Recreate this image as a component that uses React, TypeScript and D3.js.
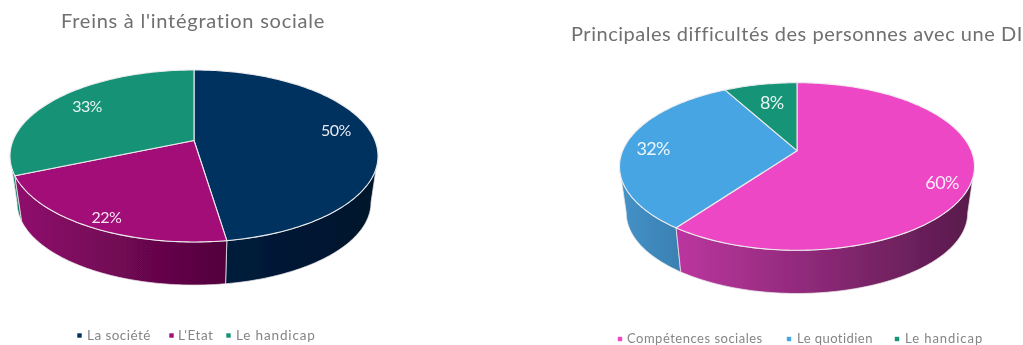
import React from "react";
import * as d3 from "d3";

const leftTitle = "Freins à l'intégration sociale";
const leftCategories = ["La société", "L'Etat", "Le handicap"];
const leftValues = [50, 22, 33];
const leftColors = ["#03305f", "#a30b78", "#149377"];
const leftWallColors: [string, string][] = [["#001c3c", "#00122a"], ["#8f0a6c", "#52043c"], ["#12806a", "#127a64"]];

const rightTitle = "Principales difficultés des personnes avec une DI";
const rightCategories = ["Compétences sociales", "Le quotidien", "Le handicap"];
const rightValues = [60, 32, 8];
const rightColors = ["#ee46c6", "#47a5e3", "#149478"];
const rightWallColors: [string, string][] = [["#bb369f", "#571a4a"], ["#4592c8", "#3a80b2"], ["#127a64", "#127a64"]];

const FONT = "Lato, 'Open Sans', sans-serif";
const TAU = Math.PI * 2;

type Cfg = {
  id: string; title: string; categories: string[]; values: number[]; colors: string[]; walls: [string, string][];
  cx: number; cy: number; b: number; a: number; k: number; depth: number; shrink: number;
  titleX: number; titleY: number; titleSize: number; titleSpacing: number;
  labelR: number; labelSize: number; labelNudge: [number, number][];
  legendY: number; legendSize: number; legendSquareX: number[]; legendTextX: number[]; legendSpacing: number[];
};

const charts: Cfg[] = [
  {
    id: "l", title: leftTitle, categories: leftCategories, values: leftValues, colors: leftColors, walls: leftWallColors,
    cx: 194, cy: 140.5, b: 181, a: 83.2, k: 0.18, depth: 47, shrink: 0.962,
    titleX: 61, titleY: 28, titleSize: 20, titleSpacing: 0.75,
    labelR: 0.8, labelSize: 16, labelNudge: [[-1, -5], [-7, 10], [5, 0]],
    legendY: 335, legendSize: 13.5, legendSquareX: [79.5, 171.5, 228.5], legendTextX: [87, 178, 236], legendSpacing: [0.45, 0.55, 0.85],
  },
  {
    id: "r", title: rightTitle, categories: rightCategories, values: rightValues, colors: rightColors, walls: rightWallColors,
    cx: 797, cy: 150.7, b: 174.3, a: 80.8, k: 0.1885, depth: 47, shrink: 0.962,
    titleX: 571, titleY: 41, titleSize: 20, titleSpacing: 0.52,
    labelR: 0.8, labelSize: 18, labelNudge: [[6, 11], [-6, 2], [5, 6]],
    legendY: 338.5, legendSize: 13, legendSquareX: [620, 789, 897], legendTextX: [627, 797, 905], legendSpacing: [0.5, 0.45, 0.95],
  },
];

function Pie3D({ c }: { c: Cfg }) {
  const arcs = d3.pie<number>().sort(null)(c.values);
  const top = (t: number, r = 1): [number, number] => {
    const u = Math.sin(t) * r, v = Math.cos(t) * r, d = 1 + c.k * v;
    return [c.cx + (c.b * u) / d, c.cy - (c.a * v) / d];
  };
  const bottom = (t: number): [number, number] => {
    const [x, y] = top(t);
    return [c.cx + (x - c.cx) * c.shrink, c.cy + c.depth + (y - c.cy) * c.shrink];
  };
  const samples = (t0: number, t1: number) => {
    const n = Math.max(2, Math.ceil(Math.abs(t1 - t0) / 0.02));
    return d3.range(n + 1).map((i) => t0 + ((t1 - t0) * i) / n);
  };
  const line = d3.line();
  const visA = Math.PI / 2 + Math.asin(c.k);
  const visB = TAU - visA;
  const walls = arcs
    .map((a, i) => ({ i, t0: Math.max(a.startAngle, visA), t1: Math.min(a.endAngle, visB) }))
    .filter((w) => w.t1 > w.t0);
  const order = [...walls].sort(
    (p, q) => Math.abs((q.t0 + q.t1) / 2 - Math.PI) - Math.abs((p.t0 + p.t1) / 2 - Math.PI)
  );
  return (
    <g>
      <defs>
        {walls.map((w) => (
          <linearGradient key={w.i} id={`${c.id}w${w.i}`} x1="0" x2="1" y1="0" y2="0">
            <stop offset="0" stopColor={c.walls[w.i][0]} />
            <stop offset="1" stopColor={c.walls[w.i][1]} />
          </linearGradient>
        ))}
      </defs>
      {order.map((w) => {
        const ts = samples(w.t0, w.t1);
        const pts = [...ts.map((t) => top(t)), ...[...ts].reverse().map((t) => bottom(t))];
        return (
          <path key={w.i} d={line(pts)! + "Z"} fill={`url(#${c.id}w${w.i})`} stroke="#e8e8e8" strokeWidth={0.9} strokeOpacity={0.85} />
        );
      })}
      {arcs.map((a, i) => {
        const pts = samples(a.startAngle, a.endAngle).map((t) => top(t));
        return (
          <path key={i} d={line([[c.cx, c.cy], ...pts])! + "Z"} fill={c.colors[i]} stroke="#ececec" strokeWidth={1.1} strokeLinejoin="round" />
        );
      })}
      {arcs.map((a, i) => {
        const [x, y] = top((a.startAngle + a.endAngle) / 2, c.labelR);
        return (
          <text key={i} x={x + c.labelNudge[i][0]} y={y + c.labelNudge[i][1]} dy="0.36em" textAnchor="middle"
            fontFamily={FONT} fontSize={c.labelSize} letterSpacing={-0.6} fill="#ffffff" fillOpacity={0.9}>
            {Math.round(c.values[i])}%
          </text>
        );
      })}
      <text x={c.titleX} y={c.titleY} fontFamily={FONT} fontSize={c.titleSize} letterSpacing={c.titleSpacing} fill="#6f6f6f">
        {c.title}
      </text>
      {c.categories.map((name, i) => (
        <g key={name}>
          <rect x={c.legendSquareX[i] - 2.2} y={c.legendY - 1.7} width={4.4} height={4.4} fill={c.colors[i]} />
          <text x={c.legendTextX[i]} y={c.legendY} dy="0.36em" fontFamily={FONT} fontSize={c.legendSize} letterSpacing={c.legendSpacing[i]} fill="#858585">
            {name}
          </text>
        </g>
      ))}
    </g>
  );
}

export default function App() {
  return (
    <svg width={1023} height={345} viewBox="0 0 1023 345"
      style={{ position: "fixed", left: 0, top: 0, background: "#fff", display: "block" }}>
      <defs>
        <filter id="soft" x="0" y="0" width="100%" height="100%">
          <feGaussianBlur stdDeviation="0.35" />
        </filter>
      </defs>
      <g filter="url(#soft)">
        {charts.map((c) => (
          <Pie3D key={c.id} c={c} />
        ))}
      </g>
    </svg>
  );
}
